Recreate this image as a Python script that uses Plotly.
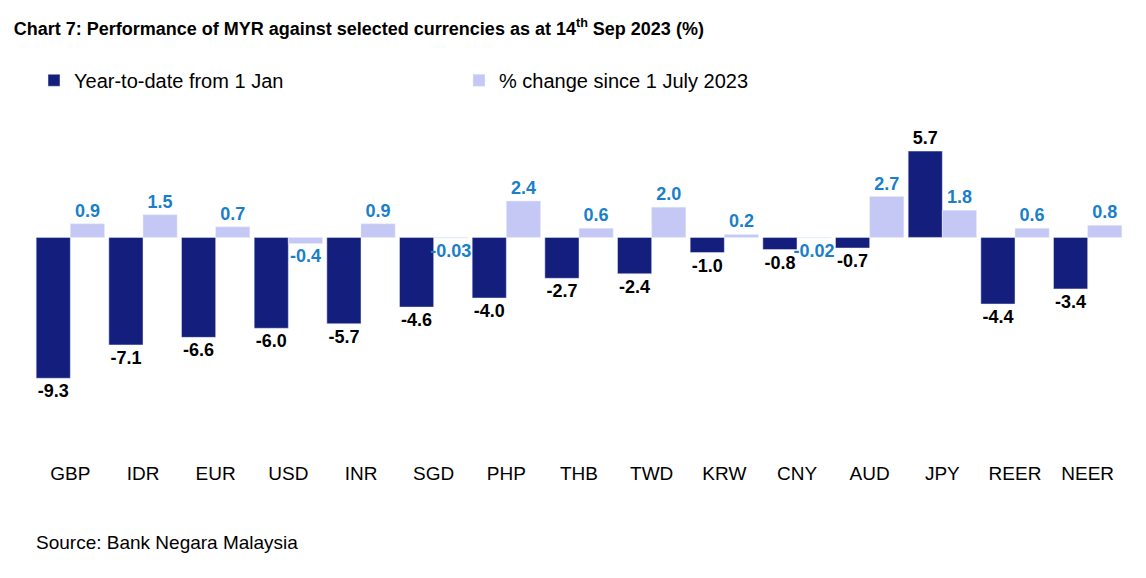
import plotly.graph_objects as go

currencies = ["GBP", "IDR", "EUR", "USD", "INR", "SGD", "PHP", "THB", "TWD",
              "KRW", "CNY", "AUD", "JPY", "REER", "NEER"]
ytd = [-9.3, -7.1, -6.6, -6.0, -5.7, -4.6, -4.0, -2.7, -2.4, -1.0, -0.8, -0.7, 5.7, -4.4, -3.4]
since_july = [0.9, 1.5, 0.7, -0.4, 0.9, -0.03, 2.4, 0.6, 2.0, 0.2, -0.02, 2.7, 1.8, 0.6, 0.8]
ytd_text = ["<b>%.1f</b>" % v for v in ytd]
july_text = ["<b>%s</b>" % ("%.2f" % v if abs(v) < 0.05 else "%.1f" % v) for v in since_july]

fig = go.Figure()
fig.add_trace(go.Bar(
    x=currencies, y=ytd, name="Year-to-date from 1 Jan",
    marker_color="#141e7d", text=ytd_text, textposition="outside",
    textfont=dict(size=18, color="black"),
    constraintext="none", cliponaxis=False,
))
fig.add_trace(go.Bar(
    x=currencies, y=since_july, name="% change since 1 July 2023",
    marker_color="#c5c8f5", text=july_text, textposition="outside",
    textfont=dict(size=18, color="#1a7fc9"),
    constraintext="none", cliponaxis=False,
))

fig.update_layout(
    width=1146, height=578,
    paper_bgcolor="white", plot_bgcolor="white",
    font=dict(family="Arial, Liberation Sans", size=18, color="black"),
    title=dict(text="<b>Chart 7: Performance of MYR against selected currencies as at 14<sup>th</sup> Sep 2023 (%)</b>",
               x=0.005, xanchor="left", y=0.975, yanchor="top", font=dict(size=18)),
    barmode="group", bargap=0.06, bargroupgap=0,
    margin=dict(l=26, r=30, t=92, b=126),
    legend=dict(orientation="h", x=0.0, y=0.875, xanchor="left", yanchor="middle",
                yref="container", traceorder="normal", entrywidth=380,
                font=dict(size=20)),
    xaxis=dict(showline=False, ticks="", tickfont=dict(size=19)),
    yaxis=dict(range=[-14.7, 8.3], visible=False, zeroline=False, showgrid=False),
    annotations=[dict(text="Source: Bank Negara Malaysia", xref="paper", yref="paper",
                      x=0.0, y=-0.2, xanchor="left", yanchor="top",
                      showarrow=False, font=dict(size=19))],
)

fig.write_html("out.html")
